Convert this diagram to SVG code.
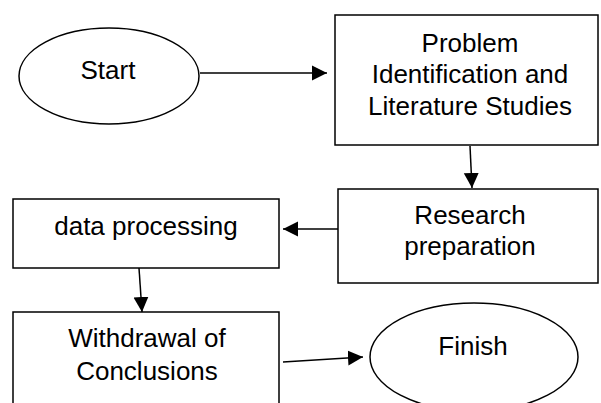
<svg xmlns="http://www.w3.org/2000/svg" width="601" height="403" viewBox="0 0 601 403">
<style>
.shape{fill:#fff;stroke:#000;stroke-width:1.5}
.lbl{font-family:"Liberation Sans",Arial,sans-serif;font-size:26px;fill:#000;text-anchor:middle}
.conn{stroke:#000;stroke-width:1.5;fill:none;marker-end:url(#ah)}
</style>
<defs>
<marker id="ah" markerUnits="userSpaceOnUse" markerWidth="16" markerHeight="16" viewBox="0 0 16 16" refX="15" refY="8" orient="auto">
<path d="M0,0.5 L15,8 L0,15.5 z" fill="#000"/>
</marker>
</defs>
<rect width="601" height="403" fill="#fff"/>
<g id="start">
<ellipse class="shape" cx="109" cy="76" rx="90" ry="48"/>
<text class="lbl" x="108" y="79">Start</text>
</g>
<g id="problem">
<rect class="shape" x="335" y="15" width="263" height="130"/>
<text class="lbl" x="470" y="52">Problem</text>
<text class="lbl" x="470" y="83">Identification and</text>
<text class="lbl" x="470" y="115">Literature Studies</text>
</g>
<g id="research">
<rect class="shape" x="338" y="189" width="260" height="94"/>
<text class="lbl" x="470" y="224">Research</text>
<text class="lbl" x="470" y="255">preparation</text>
</g>
<g id="data">
<rect class="shape" x="13" y="199" width="266" height="69"/>
<text class="lbl" x="146" y="235">data processing</text>
</g>
<g id="withdrawal">
<path class="shape" d="M13,410 L13,312 L279,312 L279,410"/>
<text class="lbl" x="147" y="347">Withdrawal of</text>
<text class="lbl" x="147" y="380">Conclusions</text>
</g>
<g id="finish">
<ellipse class="shape" cx="474" cy="357" rx="104" ry="54"/>
<text class="lbl" x="473" y="355">Finish</text>
</g>
<g id="connectors">
<line class="conn" x1="200" y1="73" x2="327" y2="73"/>
<line class="conn" x1="470" y1="146" x2="472" y2="188"/>
<line class="conn" x1="338" y1="229" x2="283" y2="229"/>
<line class="conn" x1="139" y1="268" x2="142" y2="312"/>
<line class="conn" x1="283" y1="362" x2="363" y2="357"/>
</g>
</svg>
